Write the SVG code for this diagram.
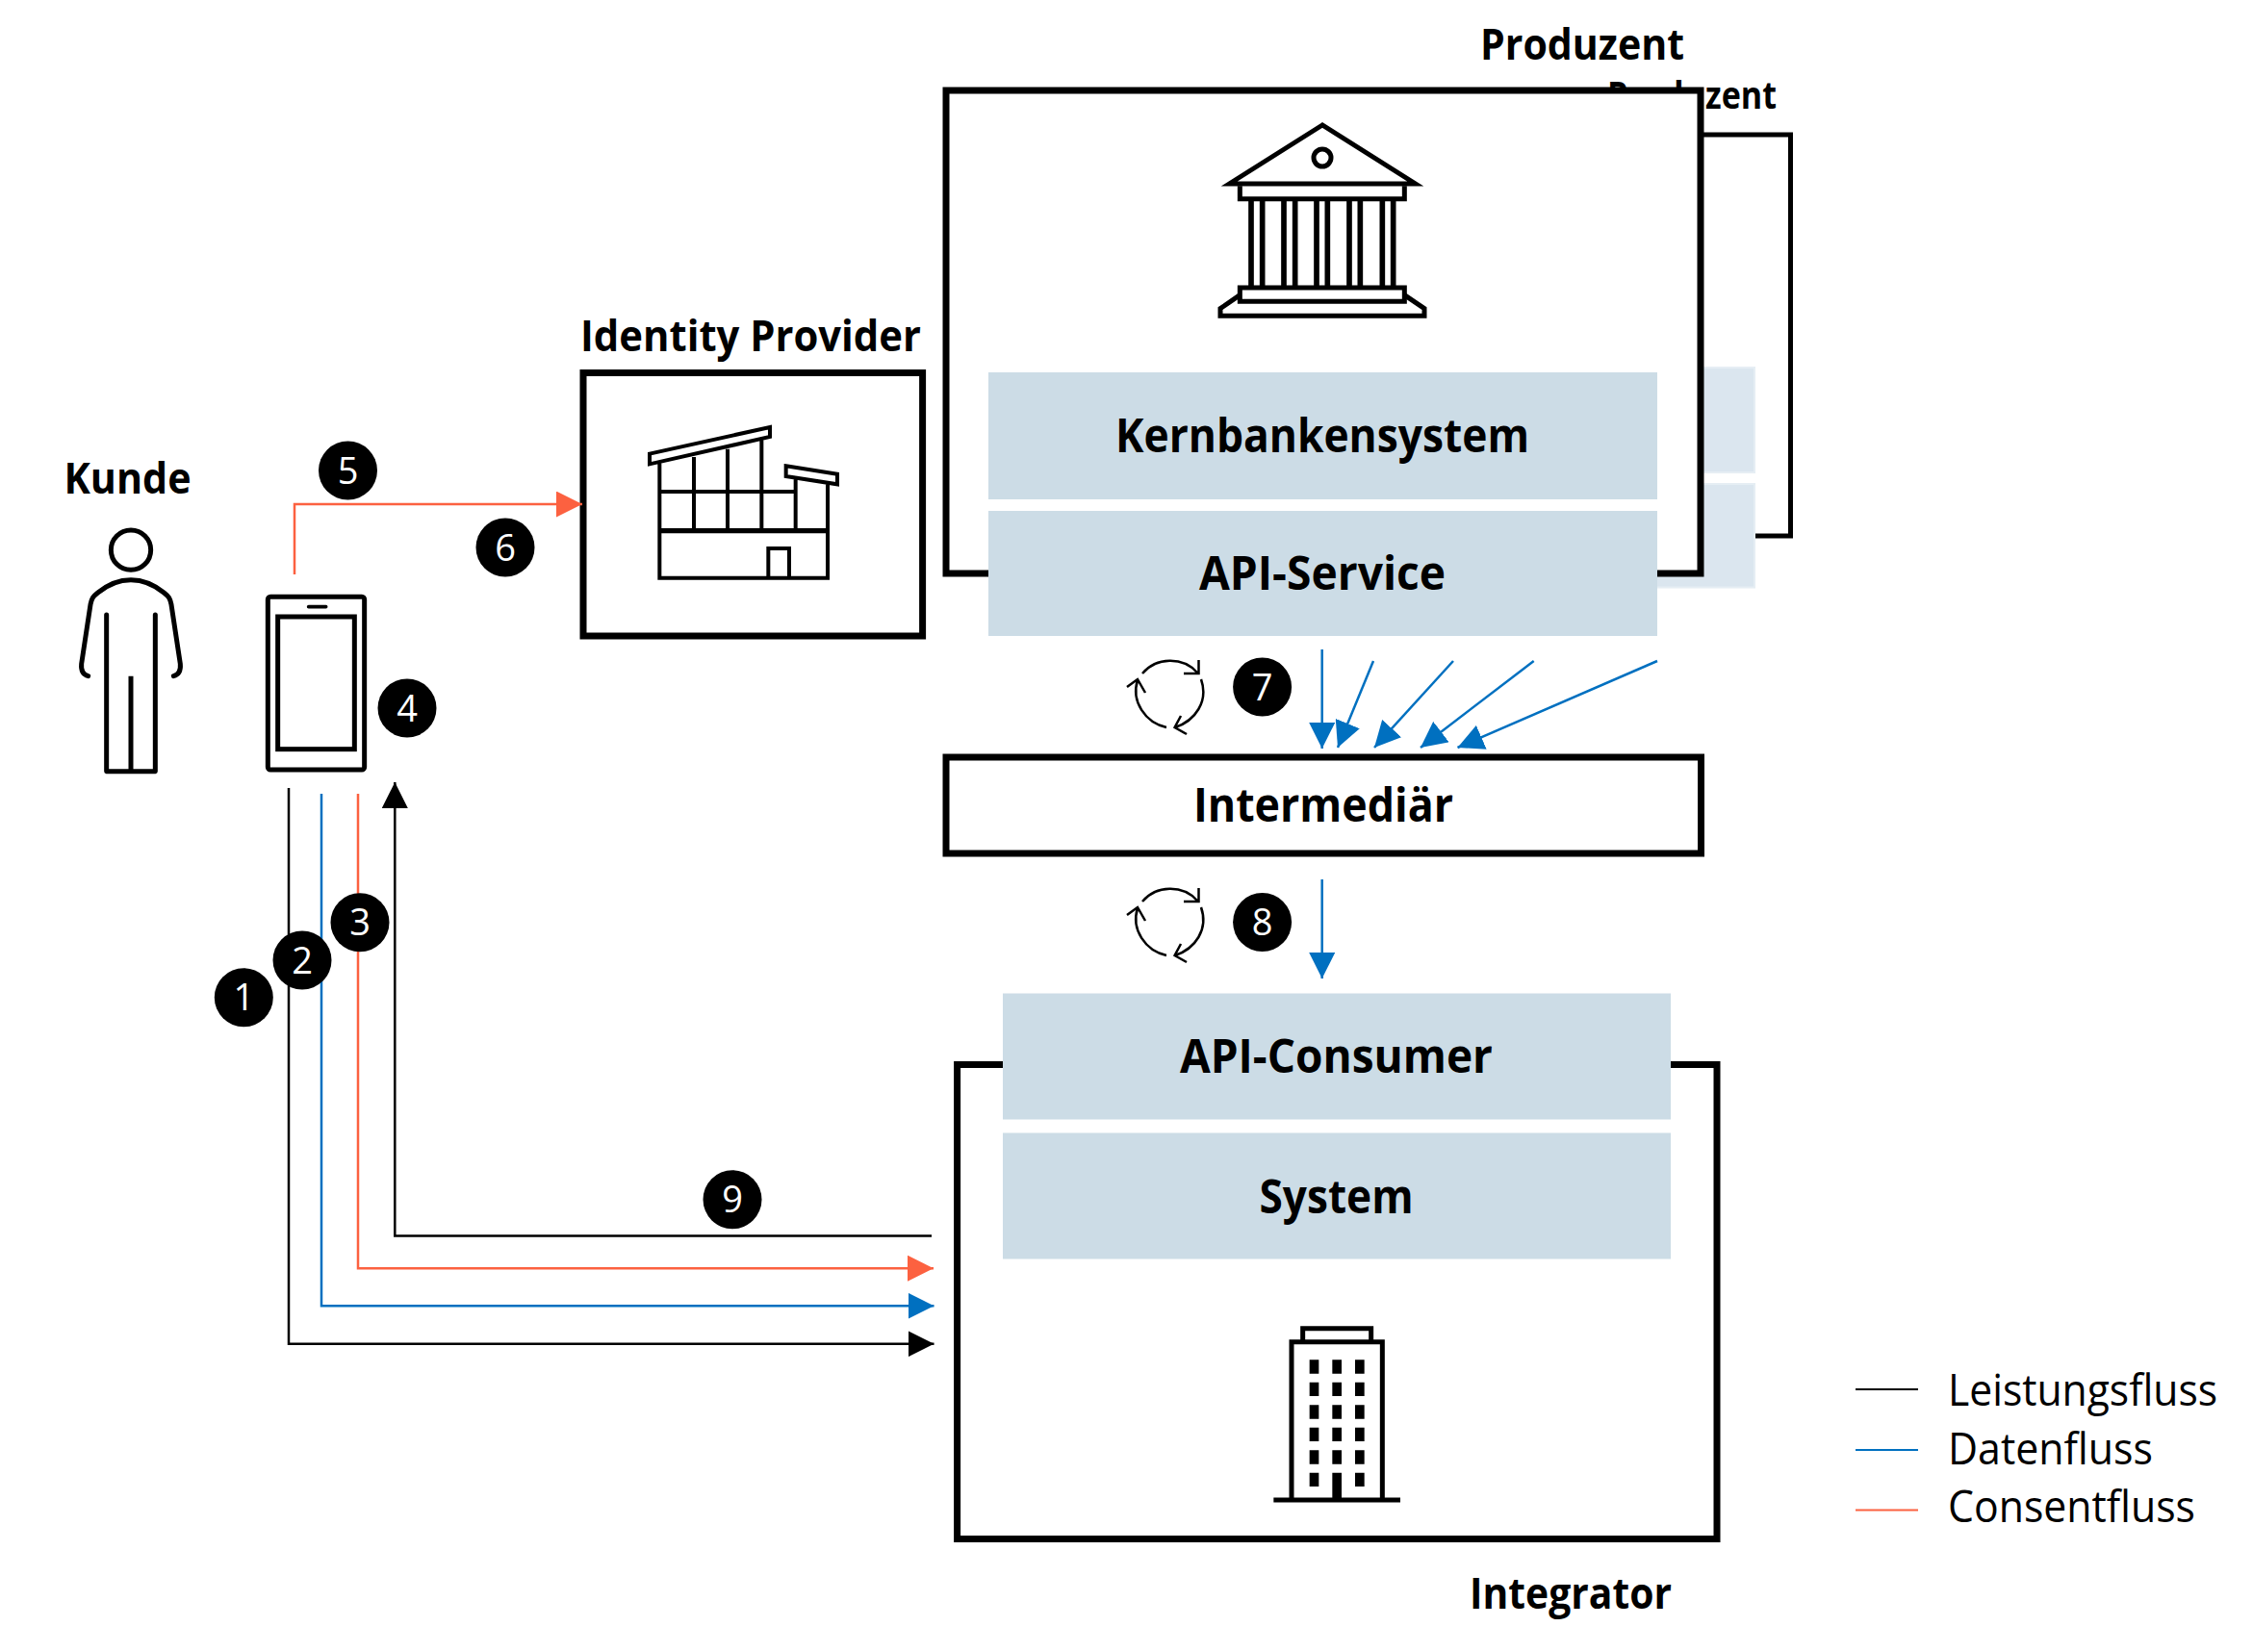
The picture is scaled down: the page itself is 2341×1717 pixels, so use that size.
<svg xmlns="http://www.w3.org/2000/svg" width="2341" height="1717" viewBox="0 0 2341 1717">
<style>
text{font-family:"Open Sans","Liberation Sans",sans-serif;fill:#000}
.b{font-weight:700;font-size:49px;text-anchor:middle}
.t{font-weight:700;font-size:45px;text-anchor:middle}
.l{font-size:46px}
.n{font-family:"Open Sans","Noto Sans",sans-serif;font-size:38px;fill:#fff;text-anchor:middle}
.frame{fill:#fff;stroke:#000;stroke-width:7}
.box{fill:#ccdce6}
.ic{fill:none;stroke:#000;stroke-width:15;stroke-linecap:butt;stroke-linejoin:miter}
.dot{fill:#000}
.k{fill:none;stroke:#000;stroke-width:2.5}
.d{fill:none;stroke:#0070c0;stroke-width:2.5}
.c{fill:none;stroke:#fc6140;stroke-width:2.5}
.cy{fill:none;stroke:#000;stroke-width:2.5}
</style>
<defs>
<marker id="ak" markerUnits="userSpaceOnUse" markerWidth="27" markerHeight="27" refX="27" refY="13.5" orient="auto"><path d="M0 0L27 13.5L0 27z" fill="#000"/></marker>
<marker id="ad" markerUnits="userSpaceOnUse" markerWidth="27" markerHeight="27" refX="27" refY="13.5" orient="auto"><path d="M0 0L27 13.5L0 27z" fill="#0070c0"/></marker>
<marker id="ac" markerUnits="userSpaceOnUse" markerWidth="27" markerHeight="27" refX="27" refY="13.5" orient="auto"><path d="M0 0L27 13.5L0 27z" fill="#fc6140"/></marker>
<g id="cycle">
<path class="cy" d="M1187 701A37 35 0 0 1 1244 700M1245.5 687V701H1230"/>
<path class="cy" d="M1248 707C1256 730 1242 750 1221 757M1227 745L1220.6 757L1233 764"/>
<path class="cy" d="M1212 757C1190 752 1175 730 1182 708M1171 715L1182 707L1190 721"/>
</g>
</defs>
<rect width="2341" height="1717" fill="#fff"/>

<g id="produzent-back">
<text class="t" x="1758" y="113" style="font-size:39px" textLength="176" lengthAdjust="spacingAndGlyphs">Produzent</text>
<rect x="1100" y="140" width="760.5" height="417" fill="#fff" stroke="#000" stroke-width="5"/>
<rect x="1100" y="382" width="723" height="109" fill="#dbe6ef" stroke="#e6eef4" stroke-width="2"/>
<rect x="1100" y="503" width="723" height="107.500" fill="#dbe6ef" stroke="#e6eef4" stroke-width="2"/>
</g>

<g id="produzent">
<text class="t" x="1644" y="62" textLength="212" lengthAdjust="spacingAndGlyphs">Produzent</text>
<rect class="frame" x="983" y="94" width="784" height="502"/>
<g id="bank-icon" transform="translate(1280 110) scale(.33333)">
<path class="ic" d="M282 60L-8 243H572Z"/>
<circle class="ic" cx="282" cy="162" r="27"/>
<path class="ic" d="M25 250V290H538V250"/>
<path class="ic" style="stroke-width:17" d="M60 290V567M95 290V567M162 290V567M197 290V567M264 290V567M298 290V567M366 290V567M400 290V567M469 290V567M503 290V567"/>
<path class="ic" d="M25 567H538V610H25Z"/>
<path class="ic" d="M25 590L-36 632V655H600V632L538 590"/>
</g>
</g>
<g id="kernbankensystem">
<rect class="box" x="1027" y="387" width="695" height="132"/>
<text class="b" x="1374" y="470" textLength="430" lengthAdjust="spacingAndGlyphs">Kernbankensystem</text>
</g>
<g id="api-service">
<rect class="box" x="1027" y="531" width="695" height="130"/>
<text class="b" x="1374" y="613" textLength="256" lengthAdjust="spacingAndGlyphs">API-Service</text>
</g>

<g id="identity-provider">
<text class="t" x="780" y="365" textLength="354" lengthAdjust="spacingAndGlyphs">Identity Provider</text>
<rect class="frame" x="606" y="387.500" width="352.600" height="273.500"/>
<g transform="translate(650 430) scale(.33333)">
<path class="ic" style="stroke-width:12" d="M75 125L450 42V72L75 157ZM106 150V512H630V215M213 135V365M318 110V365M424 80V365M530 205V365M106 243H530M500 163L660 188V220L500 195Z"/>
<path class="ic" style="stroke-width:16" d="M106 365H630"/>
<path class="ic" style="stroke-width:12" d="M445 512V420H510V512"/>
</g>
</g>

<g id="kunde">
<text class="t" x="132.500" y="513" textLength="132" lengthAdjust="spacingAndGlyphs">Kunde</text>
<g transform="translate(60 540) scale(.33333)" >
<circle class="ic" cx="228" cy="95" r="62"/>
<path class="ic" style="stroke-linecap:round" d="M95 488C80 484 72 472 74 450L102 265C106 245 110 240 125 228C190 175 266 175 331 228C346 240 350 245 354 265L382 450C384 472 376 484 361 488"/>
<path class="ic" style="stroke-linecap:round" d="M152 297V785M304 297V785"/>
<path class="ic" d="M152 785H304M228 488V785"/>
</g>
</g>

<g id="smartphone" transform="translate(60 540) scale(.33333)">
<rect class="ic" x="655" y="241" width="301" height="539" rx="8"/>
<rect class="ic" x="686" y="303" width="239" height="413"/>
<path class="ic" style="stroke-linecap:round;stroke-width:11" d="M782 272H836"/>
</g>

<g id="intermediaer">
<rect class="frame" x="983" y="787" width="784.500" height="100"/>
<text class="b" x="1375" y="854" textLength="270" lengthAdjust="spacingAndGlyphs">Intermediär</text>
</g>

<g id="integrator">
<text class="t" x="1632" y="1672" textLength="210" lengthAdjust="spacingAndGlyphs">Integrator</text>
<rect class="frame" x="994.600" y="1106.500" width="789.400" height="493"/>
<g transform="translate(1310 1359) scale(.33333)">
<path class="ic" d="M96 595V107H379V595M131 107V65H344V107"/>
<path class="ic" style="stroke-width:15" d="M40 600H435"/>
<path class="dot" d="M152 163h29v43h-29zM223 163h29v43h-29zM294 163h29v43h-29zM152 233h29v43h-29zM223 233h29v43h-29zM294 233h29v43h-29zM152 304h29v43h-29zM223 304h29v43h-29zM294 304h29v43h-29zM152 374h29v43h-29zM223 374h29v43h-29zM294 374h29v43h-29zM152 445h29v43h-29zM223 445h29v43h-29zM294 445h29v43h-29zM152 515h29v43h-29zM223 515h29v85h-29zM294 515h29v43h-29z"/>
</g>
</g>
<g id="api-consumer">
<rect class="box" x="1042" y="1032.500" width="694" height="131"/>
<text class="b" x="1388.500" y="1115" textLength="325" lengthAdjust="spacingAndGlyphs">API-Consumer</text>
</g>
<g id="system">
<rect class="box" x="1042" y="1177.500" width="694" height="131"/>
<text class="b" x="1388.500" y="1261" textLength="160" lengthAdjust="spacingAndGlyphs">System</text>
</g>

<g id="connectors">
<path class="c" d="M306 597V524H605" marker-end="url(#ac)"/>
<path class="k" d="M300 819V1396.800H970.500" marker-end="url(#ak)"/>
<path class="d" d="M334 825V1357.200H970.500" marker-end="url(#ad)"/>
<path class="c" d="M372 825V1318.200H970" marker-end="url(#ac)"/>
<path class="k" d="M968 1284.500H410.300V813" marker-end="url(#ak)"/>
<path class="d" d="M1373.700 675V778" marker-end="url(#ad)"/>
<path class="d" d="M1427 687L1390 777" marker-end="url(#ad)"/>
<path class="d" d="M1510 687L1428 777" marker-end="url(#ad)"/>
<path class="d" d="M1593.700 687L1476 777" marker-end="url(#ad)"/>
<path class="d" d="M1722 687L1514.500 777" marker-end="url(#ad)"/>
<path class="d" d="M1373.700 914V1017" marker-end="url(#ad)"/>
</g>

<g id="cycle-7"><use href="#cycle" y="-1"/></g>
<g id="cycle-8"><use href="#cycle" y="236"/></g>

<g id="step-1"><circle cx="253.300" cy="1036.700" r="30.500"/><text class="n" x="253.300" y="1050">1</text></g>
<g id="step-2"><circle cx="314" cy="998" r="30.500"/><text class="n" x="314" y="1011.500">2</text></g>
<g id="step-3"><circle cx="374" cy="958.700" r="30.500"/><text class="n" x="374" y="972">3</text></g>
<g id="step-4"><circle cx="423" cy="736" r="30.500"/><text class="n" x="423" y="749.500">4</text></g>
<g id="step-5"><circle cx="361.500" cy="489" r="30.500"/><text class="n" x="361.500" y="502.500">5</text></g>
<g id="step-6"><circle cx="525" cy="569" r="30.500"/><text class="n" x="525" y="582.500">6</text></g>
<g id="step-7"><circle cx="1311.600" cy="714" r="30.500"/><text class="n" x="1311.600" y="727.500">7</text></g>
<g id="step-8"><circle cx="1311.600" cy="958.500" r="30.500"/><text class="n" x="1311.600" y="972">8</text></g>
<g id="step-9"><circle cx="761" cy="1246.700" r="30.500"/><text class="n" x="761" y="1260">9</text></g>

<g id="legend">
<path d="M1928 1444H1993" stroke="#000" stroke-width="2"/>
<path d="M1928 1507H1993" stroke="#0070c0" stroke-width="2"/>
<path d="M1928 1569.500H1993" stroke="#fc6140" stroke-width="2"/>
<text class="l" x="2024" y="1461" textLength="280" lengthAdjust="spacingAndGlyphs">Leistungsfluss</text>
<text class="l" x="2024" y="1521.500" textLength="213" lengthAdjust="spacingAndGlyphs">Datenfluss</text>
<text class="l" x="2024" y="1581.500" textLength="257" lengthAdjust="spacingAndGlyphs">Consentfluss</text>
</g>
</svg>
